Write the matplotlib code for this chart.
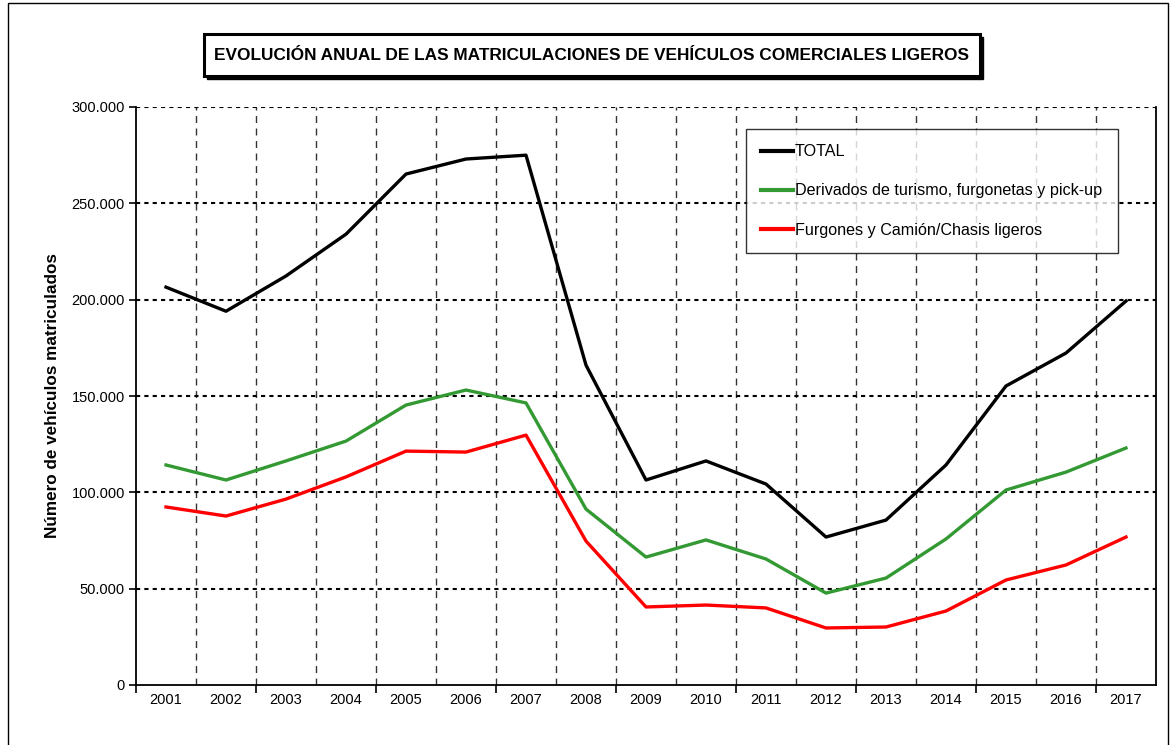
import matplotlib
matplotlib.use("Agg")
import matplotlib.pyplot as plt
from matplotlib.patches import Rectangle
from matplotlib.ticker import FuncFormatter, FixedLocator

plt.rcParams['font.family'] = ['Liberation Sans', 'DejaVu Sans']

# datos
anios = ['2001', '2002', '2003', '2004', '2005', '2006', '2007', '2008', '2009',
         '2010', '2011', '2012', '2013', '2014', '2015', '2016', '2017']
total = [206500, 194000, 212300, 234000, 265200, 273000, 275000, 166000, 106400,
         116300, 104300, 76800, 85600, 114200, 155200, 172300, 199300]
derivados = [114200, 106400, 116300, 126600, 145300, 153100, 146400, 91300, 66400,
             75300, 65400, 47700, 55500, 75800, 101200, 110500, 123000]
furgones = [92400, 87700, 96500, 108000, 121400, 120900, 129700, 74700, 40500,
            41500, 40000, 29600, 30100, 38400, 54500, 62300, 76800]

COLOR_TOTAL = "#000000"
COLOR_VERDE = "#339933"
COLOR_ROJO = "#FF0000"

fig = plt.figure(figsize=(11.71, 7.45), dpi=100)
ax = fig.add_axes([136/1171, 60/745, 1020/1171, 578/745])

x = list(range(len(anios)))

# rejilla
for k in range(len(anios) - 1):
    ax.axvline(k + 0.5, color='#333333', lw=1, dashes=(5, 4), zorder=1)
for v in [50000, 100000, 150000, 200000, 250000, 300000]:
    ax.axhline(v, color='black', lw=1.5, dashes=(2, 2), zorder=1)

ax.plot(x, total, color=COLOR_TOTAL, lw=2.4, label='TOTAL', zorder=3)
ax.plot(x, derivados, color=COLOR_VERDE, lw=2.4,
        label='Derivados de turismo, furgonetas y pick-up', zorder=3)
ax.plot(x, furgones, color=COLOR_ROJO, lw=2.4,
        label='Furgones y Camión/Chasis ligeros', zorder=3)

ax.set_xlim(-0.5, len(anios) - 0.5)
ax.set_ylim(0, 300000)

ax.set_xticks(x)
ax.set_xticklabels(anios, fontsize=10.5)
ax.tick_params(axis='x', which='major', length=0, pad=6)
ax.xaxis.set_minor_locator(FixedLocator([-0.5 + 2 * k for k in range(9)]))
ax.tick_params(axis='x', which='minor', length=6, width=1.2, direction='out')

ax.set_yticks([0, 50000, 100000, 150000, 200000, 250000, 300000])
ax.yaxis.set_major_formatter(FuncFormatter(lambda v, p: f"{int(v):,}".replace(',', '.')))
ax.tick_params(axis='y', length=5, width=1.2, labelsize=10.5, pad=3)

ax.spines['top'].set_visible(False)
for s in ['left', 'bottom', 'right']:
    ax.spines[s].set_linewidth(1.3)

ax.set_ylabel('Número de vehículos matriculados', fontsize=12.3, fontweight='bold', labelpad=8)

leg = ax.legend(loc='upper left', bbox_to_anchor=(0.598, 0.962), borderaxespad=0,
                fontsize=11.6, frameon=True, fancybox=False, edgecolor='black',
                handlelength=2.0, handletextpad=0.1, labelspacing=1.5,
                borderpad=0.95)
leg.get_frame().set_linewidth(1.0)
for ln in leg.get_lines():
    ln.set_linewidth(3)

# caja del titulo con sombra
W, H = 1171, 745
fig.patches.append(Rectangle((207/W, 1 - 79/H), 776/W, 42/H, transform=fig.transFigure,
                             facecolor='black', edgecolor='black', zorder=5))
fig.patches.append(Rectangle((204/W, 1 - 76/H), 776/W, 42/H, transform=fig.transFigure,
                             facecolor='white', edgecolor='black', lw=2.2, zorder=6))
fig.text(592/W, 1 - 55/H, 'EVOLUCIÓN ANUAL DE LAS MATRICULACIONES DE VEHÍCULOS COMERCIALES LIGEROS',
         ha='center', va='center', fontsize=12.4, fontweight='bold', zorder=7)

# marco exterior
fig.patches.append(Rectangle((8/W, -0.01), 1160/W, 1 - 3/H + 0.01, transform=fig.transFigure,
                             facecolor='none', edgecolor='black', lw=1.0, zorder=4))

fig.savefig('out.png', dpi=100)
